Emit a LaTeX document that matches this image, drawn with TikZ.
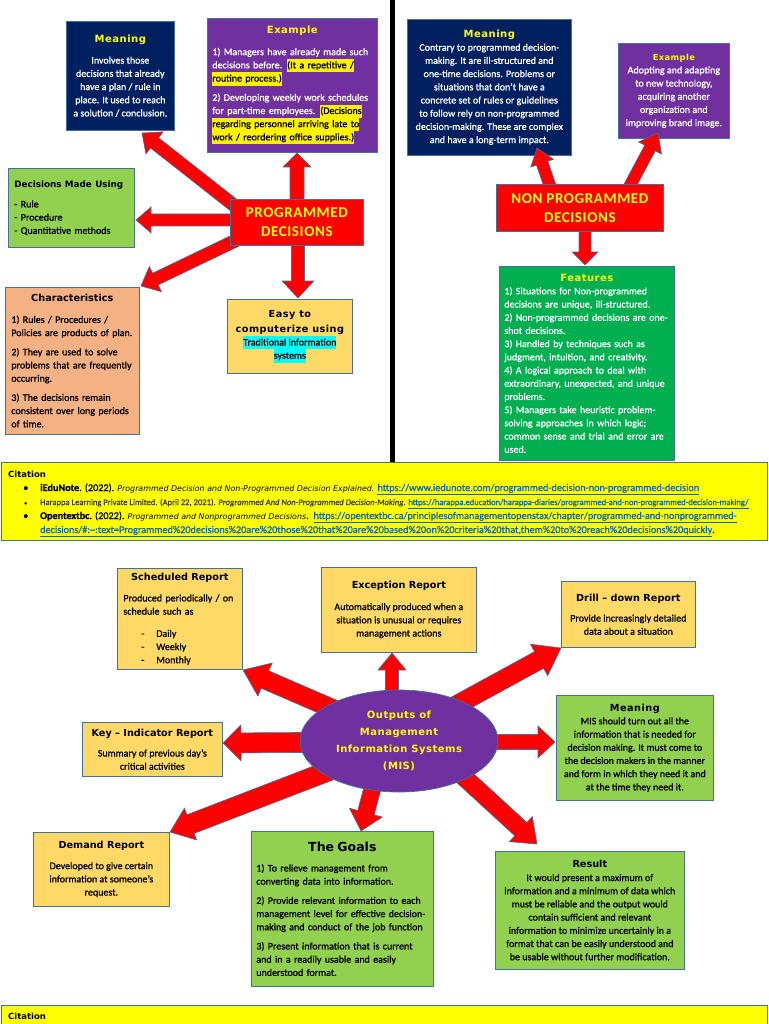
\documentclass[tikz,border=0pt]{standalone}
\usepackage{fontspec}
\setmainfont{Carlito}[FakeBold=1]
\newfontfamily\bodyf[FakeBold=1]{Carlito}
\newfontfamily\tfont{DejaVu Sans}
\newfontfamily\tfontsp[LetterSpace=5]{DejaVu Sans}
\newfontfamily\cfsp[LetterSpace=4]{Carlito}
\usetikzlibrary{shapes.geometric,calc}
\definecolor{navy}{HTML}{002060}
\definecolor{purp}{HTML}{7030A0}
\definecolor{lgreen}{HTML}{92D050}
\definecolor{dgreen}{HTML}{00B050}
\definecolor{orng}{HTML}{F4B183}
\definecolor{gold}{HTML}{FFD966}
\definecolor{ttl}{HTML}{FFFF00}
\definecolor{edge}{HTML}{41719C}
\definecolor{arred}{HTML}{FF0000}
\definecolor{linkblue}{HTML}{0563C1}
\definecolor{cyanhl}{HTML}{00FFFF}
\newcommand\ttl[2][9.7]{{\tfont\bfseries\fontsize{#1}{12}\selectfont #2}}
\newcommand\hly[1]{{\setlength{\fboxsep}{0pt}\colorbox{yellow}{\color{black}\strut #1}}}
\newcommand\hlc[1]{{\setlength{\fboxsep}{0pt}\colorbox{cyanhl}{\color{black}\strut #1}}}
\newcommand\lnk[1]{{\color{linkblue}\underline{#1}}}
\newcommand\blockarrow[5]{%
  \coordinate (ah) at ($(#2)!#5!(#1)$);
  \draw[blk] ($(#1)!#3!90:(#2)$) -- ($(ah)!#3!90:(#2)$) -- ($(ah)!#4!90:(#2)$) -- (#2)
    -- ($(ah)!#4!-90:(#2)$) -- ($(ah)!#3!-90:(#2)$) -- ($(#1)!#3!-90:(#2)$) -- cycle;}
\tikzset{
  box/.style={draw=edge, line width=0.7pt, anchor=north west, inner sep=0pt, inner xsep=6pt,
    font=\bodyf\fontsize{10}{13.2}\selectfont},
  blk/.style={fill=arred, draw=edge, line width=0.6pt, line join=miter},
  redbox/.style={box, fill=arred, text=ttl, align=center,
    font=\cfsp\bfseries\fontsize{15}{19}\selectfont},
  cite/.style={anchor=base west, inner sep=0pt, font=\fontsize{10.2}{12}\selectfont},
}
\begin{document}
\begin{tikzpicture}[x=1pt,y=-1pt]
\useasboundingbox (0,0) rectangle (768,1024);
\fill[white] (0,0) rectangle (768,1024);

% divider
\draw[line width=5pt] (392,0) -- (392,462);

% ---------- top left ----------
\node[box, fill=navy, text=white, align=center, minimum width=108pt, minimum height=109pt] (pm) at (66,21)
 {\ttl[10]{\color{ttl}\tfontsp Meaning}\\[8pt]
  Involves those\\decisions that already\\have a plan / rule in\\place. It used to reach\\a solution / conclusion.};

\node[box, fill=purp, text=white, align=left, minimum width=170pt, minimum height=134pt, text width=160pt, inner xsep=5pt] (pe) at (207,18)
 {\makebox[\linewidth]{\ttl[10]{\color{ttl}\tfontsp Example}}\\[8pt]
  1) Managers have already made such\\
  decisions before. \hly{(It a repetitive /}\\
  \hly{routine process.)}\\[6pt]
  2) Developing weekly work schedules\\
  for part-time employees. \hly{(Decisions}\\
  \hly{regarding personnel arriving late to}\\
  \hly{work / reordering office supplies.)}};

\node[box, fill=lgreen, align=left, minimum width=126pt, minimum height=79pt, text width=114pt] (dmu) at (8,168)
 {\ttl[8.8]{Decisions Made Using}\\[7pt]
  - Rule\\- Procedure\\- Quantitative methods};

\node[box, fill=orng, align=left, minimum width=134pt, minimum height=147pt, text width=122pt] (ch) at (5,287)
 {\makebox[\linewidth]{\ttl{Characteristics}}\\[8pt]
  1) Rules / Procedures /\\Policies are products of plan.\\[6pt]
  2) They are used to solve\\problems that are frequently\\occurring.\\[6pt]
  3) The decisions remain\\consistent over long periods\\of time.};

\node[box, fill=gold, align=center, minimum width=125pt, minimum height=74pt] (ez) at (227,299)
 {\ttl{\tfontsp Easy to}\\[2pt]\ttl{\tfontsp computerize using}\\
  \hlc{Traditional information}\\\hlc{systems}};

% ---------- top right ----------
\node[box, fill=navy, text=white, align=center, minimum width=164pt, minimum height=136pt] (npm) at (407,19)
 {\ttl[10]{\color{ttl}\tfontsp Meaning}\\
  Contrary to programmed decision-\\making. It are ill-structured and\\one-time decisions. Problems or\\situations that don’t have a\\concrete set of rules or guidelines\\to follow rely on non-programmed\\decision-making. These are complex\\and have a long-term impact.};

\node[box, fill=purp, text=white, align=center, minimum width=111pt, minimum height=95pt] (nex) at (618,43)
 {\ttl[8.3]{\color{ttl}\tfontsp Example}\\
  Adopting and adapting\\to new technology,\\acquiring another\\organization and\\improving brand image.};

\node[box, fill=dgreen, text=white, align=left, minimum width=175pt, minimum height=194pt, text width=165pt, inner xsep=5pt] (ft) at (499,266)
 {\makebox[\linewidth]{\ttl[10]{\color{ttl}\tfontsp Features}}\\
  1) Situations for Non-programmed\\decisions are unique, ill-structured.\\
  2) Non-programmed decisions are one-\\shot decisions.\\
  3) Handled by techniques such as\\judgment, intuition, and creativity.\\
  4) A logical approach to deal with\\extraordinary, unexpected, and unique\\problems.\\
  5) Managers take heuristic problem-\\solving approaches in which logic;\\common sense and trial and error are\\used.};

% arrows top
\coordinate (a1s) at (245,214); \coordinate (a1t) at (142,133);
\coordinate (a2s) at (297,210); \coordinate (a2t) at (297,153);
\coordinate (a3s) at (245,220); \coordinate (a3t) at (136,220);
\coordinate (a4s) at (245,236); \coordinate (a4t) at (141,286);
\coordinate (a5s) at (298,240); \coordinate (a5t) at (298,298);
\coordinate (b1s) at (553,195); \coordinate (b1t) at (537,148);
\coordinate (b2s) at (625,195); \coordinate (b2t) at (658,133);
\coordinate (b3s) at (585,225); \coordinate (b3t) at (585,265);
\blockarrow{a1s}{a1t}{6.5pt}{14pt}{16pt}
\blockarrow{a2s}{a2t}{7pt}{14pt}{14pt}
\blockarrow{a3s}{a3t}{6pt}{13pt}{15pt}
\blockarrow{a4s}{a4t}{6.5pt}{14pt}{16pt}
\blockarrow{a5s}{a5t}{6.5pt}{16pt}{17pt}
\blockarrow{b1s}{b1t}{6pt}{12pt}{16pt}
\blockarrow{b2s}{b2t}{6pt}{13pt}{17pt}
\blockarrow{b3s}{b3t}{6pt}{13pt}{13pt}

\node[redbox, minimum width=133pt, minimum height=46pt] (pd) at (230,199) {PROGRAMMED\\DECISIONS};
\node[redbox, minimum width=167pt, minimum height=47pt] (npd) at (496,184) {NON PROGRAMMED\\DECISIONS};

% ---------- citation 1 ----------
\fill[ttl, draw=edge, line width=0.7pt] (1,462) rectangle (767,540);
\node[cite, font=\tfont\bfseries\fontsize{8.5}{10}\selectfont] (ct1) at (8,477) {Citation};
\node[cite] (bu1) at (23,491) {•};
\node[cite] (l1) at (40,491) {\textbf{iEduNote}. (2022). {\tfont\itshape\fontsize{7.9}{9}\selectfont Programmed Decision and Non-Programmed Decision Explained.} \lnk{https://www.iedunote.com/programmed-decision-non-programmed-decision}};
\node[cite, font=\fontsize{6}{8}\selectfont] (bu2) at (24,505) {•};
\node[cite, font=\fontsize{8.55}{9}\selectfont] (l2) at (40,505) {{\color{black!75}Harappa Learning Private Limited. (April 22, 2021). \textit{Programmed And Non-Programmed Decision-Making.}} \lnk{https://harappa.education/harappa-diaries/programmed-and-non-programmed-decision-making/}};
\node[cite] (bu3) at (23,519) {•};
\node[cite] (l3) at (40,519) {\textbf{Opentextbc}. (2022). {\tfont\itshape\fontsize{7.9}{9}\selectfont Programmed and Nonprogrammed Decisions}.\, \lnk{https://opentextbc.ca/principlesofmanagementopenstax/chapter/programmed-and-nonprogrammed-}};
\node[cite] (l4) at (40,533) {\lnk{decisions/\#:\textasciitilde:text=Programmed\%20decisions\%20are\%20those\%20that\%20are\%20based\%20on\%20criteria\%20that,them\%20to\%20reach\%20decisions\%20quickly}.};

% ---------- bottom ----------
\node[box, fill=gold, align=left, minimum width=125pt, minimum height=101pt, text width=113pt] (sr) at (117,568)
 {\makebox[\linewidth]{\ttl{Scheduled Report}}\\[8pt]
  Produced periodically / on\\schedule such as\\[9pt]
  \hspace*{18pt}\makebox[15pt][l]{-}Daily\\
  \hspace*{18pt}\makebox[15pt][l]{-}Weekly\\
  \hspace*{18pt}\makebox[15pt][l]{-}Monthly};

\node[box, fill=gold, align=center, minimum width=155pt, minimum height=85pt] (er) at (321,567)
 {\ttl{Exception Report}\\[8pt]
  Automatically produced when a\\situation is unusual or requires\\management actions};

\node[box, fill=gold, align=center, minimum width=134pt, minimum height=66pt] (dd) at (561,581)
 {\ttl{Drill – down Report}\\[7pt]
  Provide increasingly detailed\\data about a situation};

\node[box, fill=gold, align=center, minimum width=140pt, minimum height=54pt] (ki) at (82,722)
 {\ttl{Key – Indicator Report}\\[7pt]
  Summary of previous day’s\\critical activities};

\node[box, fill=lgreen, align=center, minimum width=157pt, minimum height=105pt] (mm) at (556,695)
 {\ttl{\tfontsp Meaning}\\
  MIS should turn out all the\\information that is needed for\\decision making. It must come to\\the decision makers in the manner\\and form in which they need it and\\at the time they need it.};

\node[box, fill=gold, align=center, minimum width=136pt, minimum height=74pt] (dr) at (33,832)
 {\ttl{Demand Report}\\[7pt]
  Developed to give certain\\information at someone’s\\request.};

\node[box, fill=lgreen, align=left, minimum width=182pt, minimum height=155pt, text width=172pt, inner xsep=5pt] (gl) at (251,831)
 {\makebox[\linewidth]{\ttl[12.5]{The Goals}}\\[7pt]
  1) To relieve management from\\converting data into information.\\[6pt]
  2) Provide relevant information to each\\management level for effective decision-\\making and conduct of the job function\\[6pt]
  3) Present information that is current\\and in a readily usable and easily\\understood format.};

\node[box, fill=lgreen, align=center, minimum width=189pt, minimum height=118pt] (rs) at (495,851)
 {\ttl{Result}\\
  It would present a maximum of\\information and a minimum of data which\\must be reliable and the output would\\contain sufficient and relevant\\information to minimize uncertainly in a\\format that can be easily understood and\\be usable without further modification.};

% arrows bottom
\coordinate (c1s) at (370,725); \coordinate (c1t) at (243,670);
\coordinate (c2s) at (392,720); \coordinate (c2t) at (392,653);
\coordinate (c3s) at (420,725); \coordinate (c3t) at (561,648);
\coordinate (c4s) at (370,742); \coordinate (c4t) at (223,743);
\coordinate (c5s) at (450,742); \coordinate (c5t) at (555,742);
\coordinate (c6s) at (370,755); \coordinate (c6t) at (170,832);
\coordinate (c7s) at (380,760); \coordinate (c7t) at (361,831);
\coordinate (c8s) at (440,755); \coordinate (c8t) at (537,844);
\blockarrow{c1s}{c1t}{9.5pt}{18pt}{24pt}
\blockarrow{c2s}{c2t}{6.5pt}{14pt}{17pt}
\blockarrow{c3s}{c3t}{9.5pt}{18pt}{25pt}
\blockarrow{c4s}{c4t}{10pt}{18pt}{18pt}
\blockarrow{c5s}{c5t}{7.5pt}{16pt}{17pt}
\blockarrow{c6s}{c6t}{10pt}{17pt}{22pt}
\blockarrow{c7s}{c7t}{8.5pt}{17pt}{19pt}
\blockarrow{c8s}{c8t}{9pt}{17pt}{22pt}

\node[ellipse, fill=purp, draw=edge, line width=0.7pt, minimum width=198pt, minimum height=102pt, inner sep=0pt,
  align=center, text=ttl, font=\tfontsp\bfseries\fontsize{10}{17}\selectfont] (mis) at (399,741)
  {Outputs of\\Management\\Information Systems\\(MIS)};

% ---------- citation 2 ----------
\fill[ttl, draw=edge, line width=0.7pt] (1,1005) rectangle (767,1030);
\node[cite, font=\tfont\bfseries\fontsize{8.5}{10}\selectfont] (ct2) at (8,1019) {Citation};
\end{tikzpicture}
\end{document}
